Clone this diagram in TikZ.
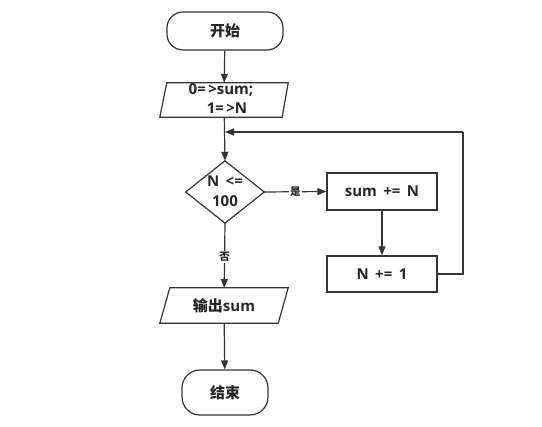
\documentclass[tikz,border=0pt]{standalone}
\usepackage{fontspec}
\setmainfont{Open Sans}
\newfontfamily\cjk{Noto Sans CJK SC}
\usetikzlibrary{arrows.meta}
\begin{document}
\begin{tikzpicture}[x=1pt,y=-1pt,
  every node/.style={font=\fontsize{15}{19}\selectfont\bfseries, text=black!85},
  line/.style={draw=black!80, line width=1.2pt},
  arr/.style={line, -{Triangle[length=9pt,width=7pt]}},
  term/.style={line, rounded corners=16pt, minimum width=116pt, minimum height=38pt, inner sep=0pt},
  term2/.style={line, rounded corners=18pt, minimum width=86pt, minimum height=45pt, inner sep=0pt},
  iobox/.style={minimum width=128pt, minimum height=34pt, inner sep=0pt, align=center},
  proc/.style={line, rectangle, minimum width=110pt, minimum height=37pt, inner sep=0pt},
  dec/.style={minimum width=78pt, minimum height=62pt, inner sep=0pt, align=center},
  lab/.style={fill=white, inner sep=1pt, font=\cjk\fontsize{10.5}{12}\selectfont\bfseries}
]
\useasboundingbox[fill=white] (0,0) rectangle (542,427);
\node[term] (start) at (225,31) {\cjk 开始};
\node[iobox] (init) at (224,100) {};
\node[align=center, inner sep=0pt] (inittext) at (221,99) {0=\,>sum;\\\hspace*{12pt}1=\,>N};
\draw[line] ([xshift=7pt]init.north west) -- (init.north east) -- ([xshift=-6pt]init.south east) -- (init.south west) -- cycle;
\node[dec] (cond) at (225,192) {};
\node[font=\fontsize{15}{20}\selectfont\bfseries, align=center, inner sep=0pt] (condtext) at (225,191) {N \,<=\\100};
\draw[line] (cond.north) -- (cond.east) -- (cond.south) -- (cond.west) -- cycle;
\node[proc] (add) at (382,191.5) {sum \,+=\, N};
\node[proc, minimum height=36pt] (inc) at (382,274) {N \,+=\, 1};
\node[iobox, minimum height=35pt] (out) at (224,305.5) {{\cjk 输出}sum};
\draw[line] ([xshift=10pt]out.north west) -- (out.north east) -- ([xshift=-10pt]out.south east) -- (out.south west) -- cycle;
\node[term2] (end) at (225,392.5) {\cjk 结束};
\coordinate (join) at (225,132);
\coordinate (corner) at (463,132);
\draw[arr] (start) -- (init);
\draw[arr] (init) -- (cond.north);
\draw[arr] (cond.east) -- node[lab] {是} (add.west);
\draw[arr] (add) -- (inc);
\draw[line] (inc.east) -| (corner);
\draw[arr] (corner) -- (join);
\draw[arr] (cond.south) -- node[lab, pos=0.52] {否} (out);
\draw[arr] (out) -- (end);
\end{tikzpicture}
\end{document}
